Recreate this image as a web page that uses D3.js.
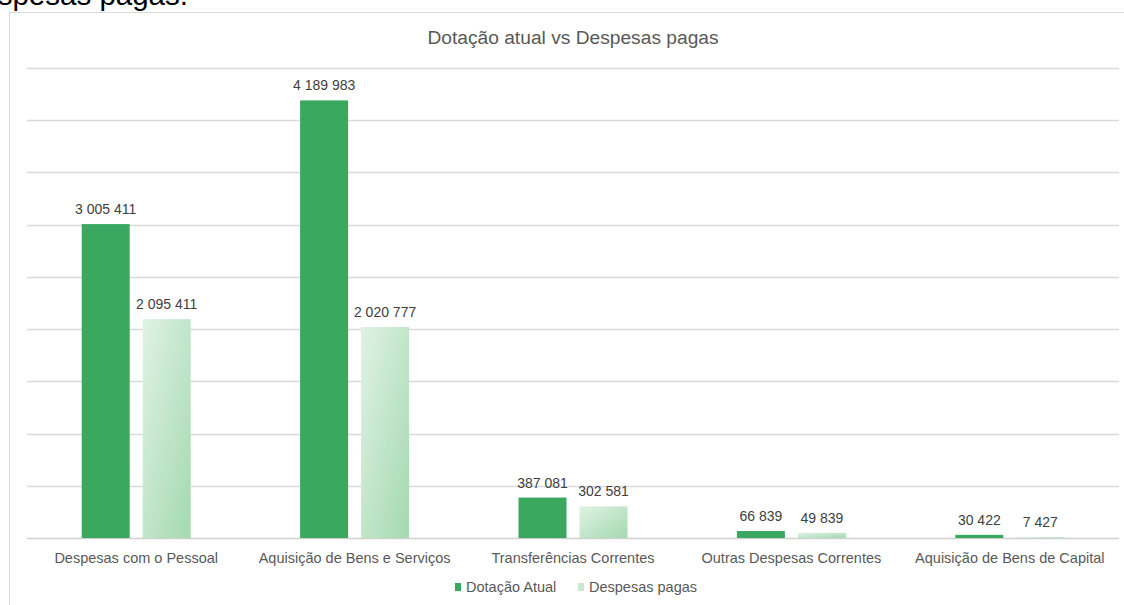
<!DOCTYPE html>
<html><head><meta charset="utf-8">
<script src="https://cdn.jsdelivr.net/npm/d3@7"></script>
<style>body{margin:0;background:#fff;} svg{display:block;font-family:"Liberation Sans",Arial,sans-serif;}</style>
</head><body>
<script>
const categories = ["Despesas com o Pessoal","Aquisição de Bens e Serviços","Transferências Correntes","Outras Despesas Correntes","Aquisição de Bens de Capital"];
const dotacaoAtual = [3005411, 4189983, 387081, 66839, 30422];
const despesasPagas = [2095411, 2020777, 302581, 49839, 7427];
const seriesNames = ["Dotação Atual","Despesas pagas"];
const yTicks = d3.range(0, 4500001, 500000);

(function(){
const W = 1124, H = 605;
const svg = d3.select("body").append("svg").attr("width", W).attr("height", H);
const defs = svg.append("defs");
const grad = defs.append("linearGradient").attr("id","lg").attr("x1","0%").attr("y1","0%").attr("x2","100%").attr("y2","100%");
grad.append("stop").attr("offset","0%").attr("stop-color","#e0f2e4");
grad.append("stop").attr("offset","100%").attr("stop-color","#a3d9b0");

// heading fragment above chart (cut by the page top)
svg.append("text").attr("x",-40).attr("y",5).attr("font-size",29.5).attr("fill","#000").text("Despesas pagas.");

// chart border
svg.append("rect").attr("x",9.5).attr("y",12.5).attr("width",1130).attr("height",600).attr("fill","#fff").attr("stroke","#d9d9d9");

const pL = 27, pR = 1119, pT = 68, pB = 538;
const x0 = d3.scaleBand().domain(categories).range([pL, pR]).padding(0);
const x1 = d3.scaleBand().domain(seriesNames).range([0, 109]).paddingInner(0.213);
const y = d3.scaleLinear().domain([0, 4500000]).range([pB, pT]);

svg.append("text").attr("x", 573).attr("y", 44).attr("text-anchor","middle").attr("font-size",19.2).attr("fill","#595959").text("Dotação atual vs Despesas pagas");

svg.append("g").selectAll("line").data(yTicks).join("line")
  .attr("x1",pL).attr("x2",pR).attr("y1",d=>Math.round(y(d))+0.5).attr("y2",d=>Math.round(y(d))+0.5)
  .attr("stroke",d=>d===0?"#d0d0d0":"#d9d9d9").attr("stroke-width",1.3);

const fmt = v => d3.format(",")(v).replace(/,/g, " ");
const groups = svg.append("g").selectAll("g").data(categories).join("g")
  .attr("transform", d => `translate(${x0(d) + x0.bandwidth()/2 - 54.5},0)`);

groups.each(function(c, i){
  const g = d3.select(this);
  const vals = [dotacaoAtual[i], despesasPagas[i]];
  vals.forEach((v, j) => {
    const bx = x1(seriesNames[j]);
    g.append("rect").attr("x", bx).attr("y", y(v)).attr("width", x1.bandwidth()).attr("height", pB - y(v))
      .attr("fill", j===0 ? "#3aa85f" : "url(#lg)");
    g.append("text").attr("x", bx + x1.bandwidth()/2).attr("y", y(v) - 10)
      .attr("text-anchor","middle").attr("font-size",14).attr("fill","#404040").text(fmt(v));
  });
});

svg.append("g").selectAll("text").data(categories).join("text")
  .attr("x", d => x0(d) + x0.bandwidth()/2).attr("y", 563).attr("text-anchor","middle")
  .attr("font-size",14.5).attr("fill","#595959").text(d=>d);

const leg = svg.append("g").attr("transform","translate(455,583)");
const legX = [0, 123];
seriesNames.forEach((s, j) => {
  leg.append("rect").attr("x", legX[j]).attr("y", 0).attr("width", 6).attr("height", 8).attr("fill", j===0 ? "#3aa85f" : "#c9e9d0");
  leg.append("text").attr("x", legX[j] + 11).attr("y", 9).attr("font-size",14.5).attr("fill","#595959").text(s);
});
})();
</script>
</body></html>
